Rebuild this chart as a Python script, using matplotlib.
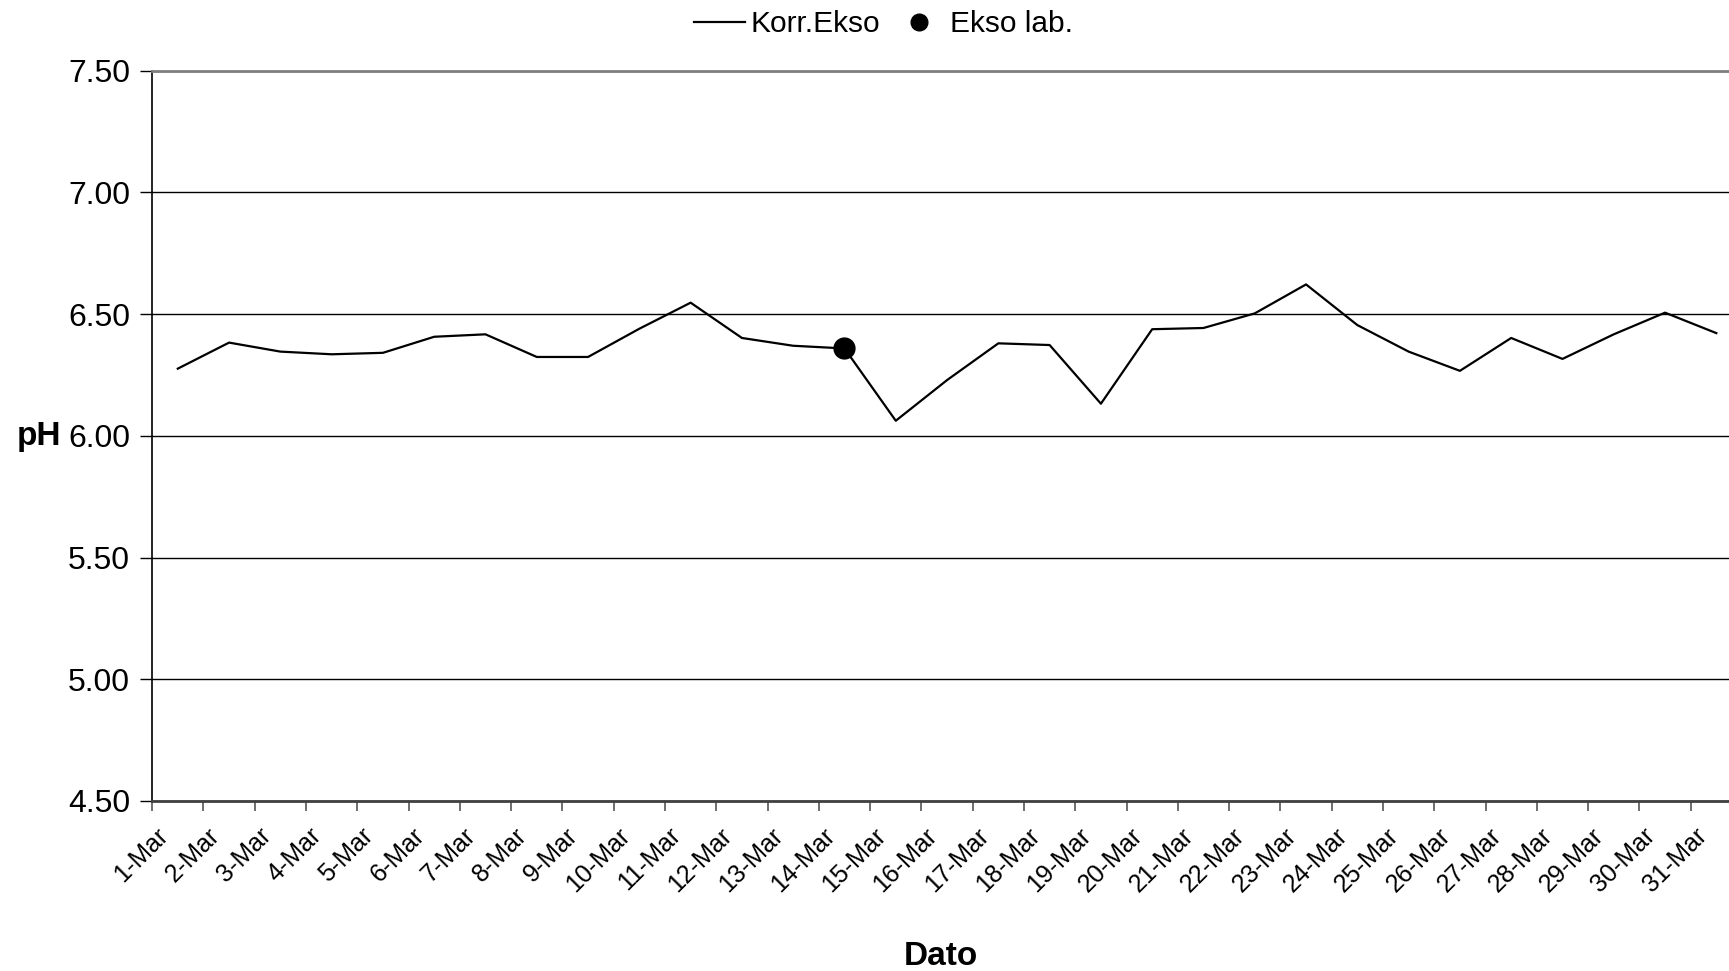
import matplotlib.pyplot as plt
import numpy as np

plt.rcParams['font.family'] = ['Liberation Sans', 'DejaVu Sans']

# dates (category labels)
dates = [f'{d}-Mar' for d in range(1, 32)]

# pH values, Korr.Ekso (daily)
korr_ekso = [6.276, 6.383, 6.346, 6.335, 6.341, 6.407, 6.417, 6.324, 6.324, 6.440,
             6.547, 6.402, 6.370, 6.359, 6.062, 6.229, 6.380, 6.373, 6.132, 6.438,
             6.443, 6.503, 6.622, 6.455, 6.346, 6.267, 6.402, 6.316, 6.417, 6.506,
             6.422]

# lab sample
lab_dates = ['14-Mar']
lab_values = [6.359]

x = np.arange(len(dates))
lab_x = [dates.index(d) for d in lab_dates]

fig = plt.figure(figsize=(17.29, 9.71), dpi=100)
# plot area runs past the right edge of the picture like in the original
ax = fig.add_axes([0.0880, 0.1751, 0.9195, 0.7521])

ax.plot(x, korr_ekso, color='black', lw=1.6, label='Korr.Ekso', zorder=3)
ax.plot(lab_x, lab_values, 'o', color='black', markersize=15, label='Ekso lab.', zorder=4)

ax.set_ylim(4.5, 7.5)
yt = np.arange(4.5, 7.51, 0.5)
ax.set_yticks(yt)
ax.set_yticklabels([f'{v:.2f}' for v in yt], fontsize=23)
ax.yaxis.grid(True, color='black', lw=1.0)
ax.set_axisbelow(True)

ax.set_xlim(-0.5, len(dates) - 0.5)
ax.set_xticks(np.arange(-0.5, len(dates), 1.0))
ax.set_xticklabels([])
# labels hang a little left of the category centre
ax.set_xticks(x - 0.43, minor=True)
ax.set_xticklabels(dates, minor=True, rotation=45, ha='right', va='top',
                   rotation_mode='anchor', fontsize=18)
ax.tick_params(axis='x', which='major', length=7, width=1.2, color='#555555', direction='out')
ax.tick_params(axis='x', which='minor', length=0, pad=16)
ax.tick_params(axis='y', length=9, width=1.0, direction='out', pad=7)

ax.spines['top'].set_color('#808080')
ax.spines['top'].set_linewidth(2.0)
ax.spines['right'].set_visible(False)
ax.spines['bottom'].set_color('#404040')
ax.spines['bottom'].set_linewidth(2.0)
ax.spines['left'].set_color('black')
ax.spines['left'].set_linewidth(1.2)

fig.text(0.0223, 0.55, 'pH', fontsize=24, fontweight='bold', ha='center', va='center')
fig.text(0.544, 0.015, 'Dato', fontsize=24, fontweight='bold', ha='center', va='center')

fig.legend(loc='upper center', bbox_to_anchor=(0.511, 1.017), ncol=2, frameon=False,
           fontsize=21.5, handlelength=1.7, handletextpad=0.2, columnspacing=0.45,
           markerscale=0.8)

plt.savefig('out.png', dpi=100)
plt.close()
